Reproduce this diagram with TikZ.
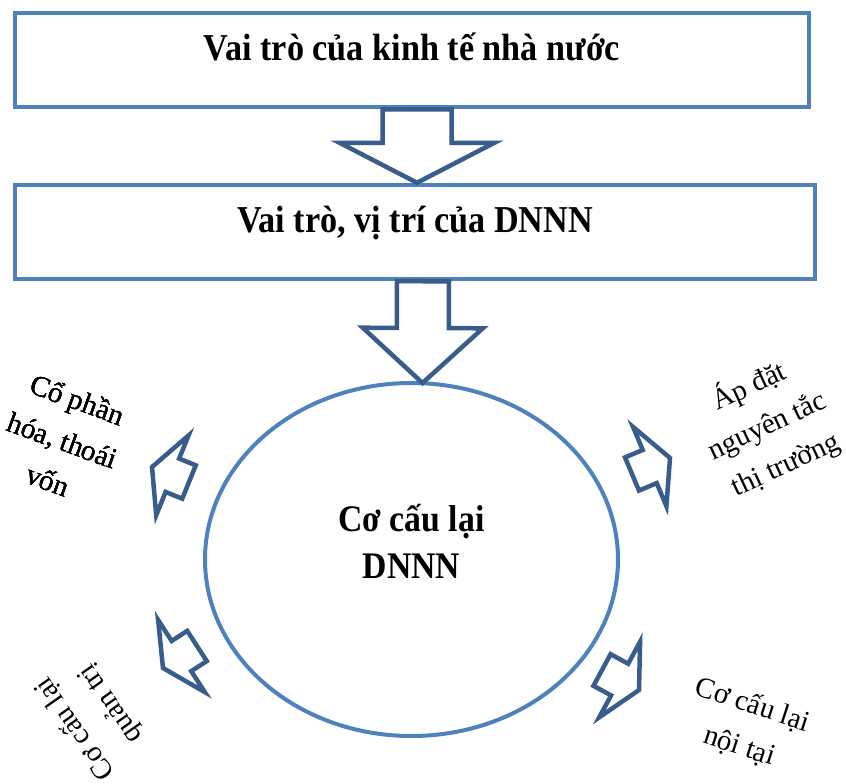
\documentclass[tikz,border=0pt]{standalone}
\usepackage{fontspec}
\setmainfont{Liberation Serif}
\newfontfamily\tallfont{Liberation Serif}[FakeStretch=0.9]
\usepackage{tikz}
\usetikzlibrary{arrows,shapes,calc}
\definecolor{boxblue}{HTML}{4F81BD}
\definecolor{arrowblue}{HTML}{385D8A}
\tikzstyle{box}=[draw=boxblue,line width=4.5pt,inner sep=0pt,text height=47pt,text depth=47pt,font=\tallfont\bfseries\fontsize{38}{44}\selectfont]
\tikzstyle{ring}=[ellipse,draw=boxblue,line width=4pt,inner sep=0pt]
\tikzstyle{bigtxt}=[align=center,font=\tallfont\bfseries\fontsize{37.5}{47}\selectfont]
\tikzstyle{lbl}=[align=center,inner sep=0pt,font=\fontsize{29}{43}\selectfont]
\tikzstyle{bigarrow}=[draw=arrowblue,line width=4.5pt,fill=white,line join=miter]
% block arrow: tail, tip, shaft half width, head half width, head length
\newcommand{\blockarrow}[5]{%
  \path #1 coordinate (ba-tail) #2 coordinate (ba-tip);
  \path ($(ba-tip)!#5pt!(ba-tail)$) coordinate (ba-head);
  \draw[bigarrow] ($(ba-tail)!#3pt!90:(ba-tip)$) -- ($(ba-head)!#3pt!90:(ba-tip)$)
    -- ($(ba-head)!#4pt!90:(ba-tip)$) -- (ba-tip) -- ($(ba-head)!#4pt!-90:(ba-tip)$)
    -- ($(ba-head)!#3pt!-90:(ba-tip)$) -- ($(ba-tail)!#3pt!-90:(ba-tip)$) -- cycle;
}
\begin{document}
\begin{tikzpicture}[x=1pt,y=-1pt]
    \useasboundingbox (0,0) rectangle (846,784);
    % First the boxes and the ellipse
    \node[box,minimum width=794pt] (ktnn) at (412,60) {Vai trò của kinh tế nhà nước};
    \node[box,minimum width=800pt] (dnnn) at (415,232) {Vai trò, vị trí của DNNN};
    \node[ring,minimum width=413pt,minimum height=353pt] (cc) at (411.5,559.5) {};
    \node[bigtxt] (cctxt) at (411.5,541) {Cơ cấu lại\\DNNN};
    % Big arrows between them
    \blockarrow{($(ktnn.south)+(5,0)$)}{($(dnnn.north)+(2,0)$)}{34.5}{77.5}{40}
    \blockarrow{($(dnnn.south)+(8,0)$)}{($(cc.north)+(11,2)$)}{26}{60}{55}
    % Small arrows round the ellipse
    \foreach \tail/\tip in {{(189,482)/(152,467)}, {(632,474)/(670,458)}, {(197,646)/(163,668)}, {(602,670)/(639,690)}}
        \blockarrow{\tail}{\tip}{18}{43}{22}
    % Labels
    \node[lbl,rotate=-20] (cph) at (63,440) {Cổ phần\\hóa, thoái\\vốn};
    \node[lbl,rotate=25] (apdat) at (767,425) {Áp đặt\\nguyên tắc\\thị trường};
    \node[lbl,rotate=125] (qtri) at (93,716) {Cơ cấu lại\\quản trị};
    \node[lbl,rotate=-18] (ntai) at (746,726) {Cơ cấu lại\\nội tại};
\end{tikzpicture}
\end{document}
